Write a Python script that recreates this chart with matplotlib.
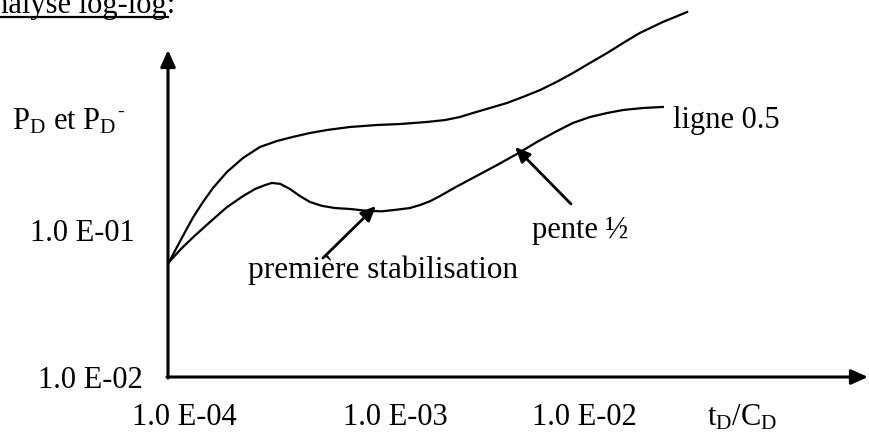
import numpy as np
import matplotlib
matplotlib.use("Agg")
import matplotlib.pyplot as plt
from matplotlib.lines import Line2D

plt.rcParams['font.family'] = ['Liberation Serif', 'DejaVu Serif']
plt.rcParams['mathtext.fontset'] = 'custom'
plt.rcParams['mathtext.rm'] = 'Liberation Serif'
plt.rcParams['mathtext.it'] = 'Liberation Serif:italic'

upper_t = [8.32e-5, 9.12e-5, 1.00e-4, 1.10e-4, 1.23e-4, 1.38e-4, 1.62e-4, 1.95e-4,
           2.37e-4, 2.88e-4, 3.47e-4, 4.22e-4, 5.13e-4, 6.68e-4, 9.12e-4, 1.19e-3,
           1.62e-3, 2.00e-3, 2.37e-3, 2.75e-3, 3.35e-3, 4.07e-3, 4.90e-3, 5.96e-3,
           7.24e-3, 8.71e-3, 1.06e-2, 1.29e-2, 1.55e-2, 1.88e-2, 2.45e-2, 3.24e-2]
upper_p = [0.0605, 0.0766, 0.0968, 0.1225, 0.155, 0.193, 0.248, 0.309,
           0.367, 0.403, 0.430, 0.457, 0.479, 0.502, 0.518, 0.526,
           0.543, 0.560, 0.587, 0.625, 0.676, 0.731, 0.804, 0.895,
           1.02, 1.17, 1.37, 1.60, 1.87, 2.19, 2.60, 3.04]

# courbe du bas (derivee P_D')
lower_t = [8.32e-5, 9.55e-5, 1.10e-4, 1.33e-4, 1.62e-4, 1.95e-4, 2.24e-4, 2.51e-4,
           2.72e-4, 2.99e-4, 3.35e-4, 3.76e-4, 4.22e-4, 4.84e-4, 5.62e-4, 6.68e-4,
           8.13e-4, 9.66e-4, 1.12e-3, 1.33e-3, 1.50e-3, 1.68e-3, 1.88e-3, 2.26e-3,
           2.75e-3, 3.55e-3, 4.57e-3, 5.75e-3, 7.24e-3, 8.71e-3, 1.06e-2, 1.29e-2,
           1.55e-2, 1.95e-2, 2.45e-2]
lower_p = [0.0605, 0.0743, 0.0895, 0.113, 0.143, 0.170, 0.190, 0.202,
           0.209, 0.206, 0.190, 0.170, 0.155, 0.146, 0.141, 0.139,
           0.135, 0.134, 0.137, 0.141, 0.148, 0.157, 0.170, 0.196,
           0.226, 0.272, 0.329, 0.397, 0.471, 0.535, 0.587, 0.625,
           0.655, 0.676, 0.687]

x_tick_labels = ["1.0 E-04", "1.0 E-03", "1.0 E-02"]
y_tick_labels = ["1.0 E-02", "1.0 E-01"]

W, H = 869, 433
FS = 22


def px(x, y):
    # pixel (from top-left) -> figure fraction
    return (x / W, 1 - y / H)


fig = plt.figure(figsize=(W / 100, H / 100), dpi=100)
ax = fig.add_axes([0, 0, 1, 1])
ax.set_xscale('log')
ax.set_yscale('log')
ax.set_xlim(10 ** -4.925, 10 ** -0.58)
ax.set_ylim(10 ** -2.381, 10 ** 0.5646)
ax.axis('off')

# courbes
ax.plot(upper_t, upper_p, color='black', lw=1.6, solid_joinstyle='round')
ax.plot(lower_t, lower_p, color='black', lw=1.6, solid_joinstyle='round')

# axes avec fleches
axis_kw = dict(arrowstyle='-|>,head_length=1.0,head_width=0.45', color='black',
               lw=2.2, shrinkA=0, shrinkB=0)
ax.annotate('', xy=px(168, 50), xytext=px(168, 378), xycoords='figure fraction',
            textcoords='figure fraction', arrowprops=axis_kw)
ax.annotate('', xy=px(868, 377), xytext=px(167, 377), xycoords='figure fraction',
            textcoords='figure fraction', arrowprops=axis_kw)

# fleches d'annotation
arr_kw = dict(arrowstyle='-|>,head_length=0.9,head_width=0.4', color='black',
              lw=2.0, shrinkA=0, shrinkB=0)
ax.annotate('', xy=px(376, 206), xytext=px(323, 258), xycoords='figure fraction',
            textcoords='figure fraction', arrowprops=arr_kw)
ax.annotate('', xy=px(515, 147), xytext=px(571, 204), xycoords='figure fraction',
            textcoords='figure fraction', arrowprops=arr_kw)


# textes
def label(x, y, s, **kw):
    fig.text(*px(x, y), s, fontsize=kw.pop('fontsize', FS), va='baseline', **kw)


label(175, 13, "Analyse log-log:", ha='right')
fig.add_artist(Line2D([0, 168 / W], [1 - 16.5 / H, 1 - 16.5 / H], color='black', lw=1.6))

label(12, 130, r"P$_\mathrm{D}$ et P$_\mathrm{D}$")
label(117, 117, "-", fontsize=14)

label(30, 241, y_tick_labels[1])
label(38, 388, y_tick_labels[0])

for x0, s in zip([132, 343, 532], x_tick_labels):
    label(x0, 425, s)
label(707, 425, r"t$_\mathrm{D}$/C$_\mathrm{D}$")

label(248, 278, "première stabilisation", fontsize=22.5)
label(532, 238, "pente ½")
label(673, 128, "ligne 0.5")

fig.savefig("out.png", dpi=100)
